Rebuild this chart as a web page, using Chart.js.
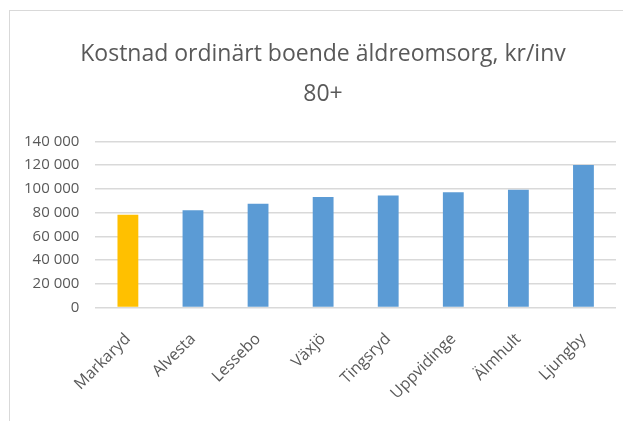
<!DOCTYPE html>
<html>
<head>
<meta charset="utf-8">
<script src="https://cdn.jsdelivr.net/npm/chart.js@4/dist/chart.umd.min.js"></script>
<style>
  html,body{margin:0;padding:0;background:#fff;overflow:hidden;}
  #box{position:absolute;left:9px;top:10px;width:628px;height:420px;border:1px solid #d9d9d9;}
  canvas{display:block;}
</style>
</head>
<body>
<div id="box"><canvas id="c" width="628" height="420"></canvas></div>
<script>
// kommuner, kr per invånare 80+
const kommuner=['Markaryd','Alvesta','Lessebo','Växjö','Tingsryd','Uppvidinge','Älmhult','Ljungby'];
const kostnad=[78300,82000,87600,93200,94400,97200,99400,120200];
const yTicks=[0,20000,40000,60000,80000,100000,120000,140000];
const titleLines=['Kostnad ordinärt boende äldreomsorg, kr/inv','80+'];
const highlight='Markaryd';

const grey='#595959';
const fmt=v=>String(v).replace(/\B(?=(\d{3})+(?!\d))/g,' ');

// title is centred on the whole chart box, not on the padded area
const titleSpan={
  id:'titleSpan',
  afterLayout(chart){
    const t=chart.titleBlock;
    if(t){ t.left=-2; t.right=chart.width; t.width=t.right-t.left; }
  }
};

new Chart(document.getElementById('c'),{
  type:'bar',
  data:{
    labels:kommuner,
    datasets:[{
      data:kostnad,
      backgroundColor:kommuner.map(k=>k===highlight?'#FFC000':'#5B9BD5'),
      borderWidth:0,
      barPercentage:0.32,
      categoryPercentage:1
    }]
  },
  options:{
    responsive:false,
    animation:false,
    layout:{padding:{left:-2,right:22,top:0,bottom:14}},
    plugins:{
      legend:{display:false},
      tooltip:{enabled:false},
      title:{
        display:true,
        text:titleLines,
        color:grey,
        font:{family:'Open Sans',size:23,weight:'normal',lineHeight:1.75},
        padding:{top:23,bottom:27}
      }
    },
    scales:{
      x:{
        grid:{display:false},
        border:{display:false},
        ticks:{color:grey,font:{family:'Open Sans',size:16},maxRotation:45,minRotation:45,padding:14}
      },
      y:{
        min:0,max:140000,
        afterBuildTicks:ax=>{ax.ticks=yTicks.map(v=>({value:v}));},
        grid:{color:'#d9d9d9',lineWidth:1.5,drawTicks:false},
        border:{display:false},
        ticks:{color:grey,font:{family:'Open Sans',size:15},padding:16,callback:v=>fmt(v)}
      }
    }
  },
  plugins:[titleSpan]
});
</script>
</body>
</html>
